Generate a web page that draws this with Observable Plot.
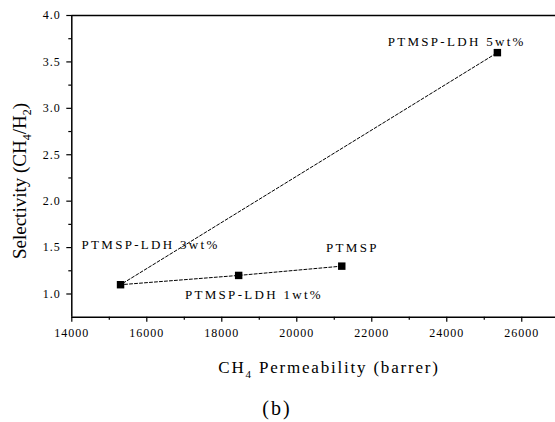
<!DOCTYPE html>
<html><head><meta charset="utf-8">
<script src="https://cdn.jsdelivr.net/npm/d3@7"></script>
<script src="https://cdn.jsdelivr.net/npm/@observablehq/plot@0.6"></script>
<style>body{margin:0;background:#fff;overflow:hidden} svg{display:block}</style>
</head><body><div id="chart"></div>
<script>
// Data
const samples = ["PTMSP", "PTMSP-LDH 1wt%", "PTMSP-LDH 3wt%", "PTMSP-LDH 5wt%"];
const permeability = [21200, 18450, 15300, 25350];
const selectivity = [1.3, 1.2, 1.1, 3.6];
// Tick values
const xMajor = [14000, 16000, 18000, 20000, 22000, 24000, 26000];
const xMinor = [15000, 17000, 19000, 21000, 23000, 25000];
const yMajor = [1.0, 1.5, 2.0, 2.5, 3.0, 3.5, 4.0];
const yMinor = [1.25, 1.75, 2.25, 2.75, 3.25, 3.75];

const data = samples.map((s, i) => ({sample: s, x: permeability[i], y: selectivity[i]}));

// label placement (pixel offsets from each point)
const labelOffsets = {
  "PTMSP": [-15.7, -18.5],
  "PTMSP-LDH 1wt%": [-53.7, 19.8],
  "PTMSP-LDH 3wt%": [-39, -39.9],
  "PTMSP-LDH 5wt%": [-109.7, -10.5]
};

const font = "'Liberation Serif','Times New Roman',serif";

const chart = Plot.plot({
  width: 555, height: 422,
  marginLeft: 71.3, marginRight: 0, marginTop: 15, marginBottom: 105.3,
  style: {fontFamily: font, background: "#fff", color: "#000", overflow: "visible"},
  x: {domain: [14000, 26900]},
  y: {domain: [0.75, 4.0]},
  marks: [
    Plot.axisX({ticks: xMajor, tickSize: 5, tickPadding: 6.5, tickFormat: d => String(d), fontSize: 12, label: null, strokeWidth: 1.2}),
    Plot.axisX({ticks: xMinor, tickSize: 3, tickFormat: () => "", label: null, strokeWidth: 1.2}),
    Plot.axisY({ticks: yMajor, tickSize: 5, tickPadding: 6, tickFormat: d => d.toFixed(1), fontSize: 12, label: null, strokeWidth: 1.2}),
    Plot.axisY({ticks: yMinor, tickSize: 3, tickFormat: () => "", label: null, strokeWidth: 1.2}),
    Plot.ruleX([14000], {stroke: "#000", strokeWidth: 1.5}),
    Plot.ruleY([0.75], {stroke: "#000", strokeWidth: 1.5}),
    Plot.ruleY([4.0], {stroke: "#000", strokeWidth: 1.3}),
    Plot.line(data, {x: "x", y: "y", stroke: "#000", strokeWidth: 1, strokeDasharray: "3,2"}),
    Plot.dot(data, {x: "x", y: "y", symbol: "square", r: 4.2, fill: "#000", stroke: "none"}),
    ...samples.map(s => Plot.text(data.filter(d => d.sample === s), {
      x: "x", y: "y", text: "sample", textAnchor: "start",
      dx: labelOffsets[s][0], dy: labelOffsets[s][1],
      fontSize: 13, fill: "#000", className: "pt-label"
    }))
  ]
});

document.getElementById("chart").appendChild(chart);
const svg = d3.select(chart);
svg.selectAll("g[aria-label='x-axis tick label'] text, g[aria-label='y-axis tick label'] text").attr("letter-spacing", "1px");
svg.selectAll(".pt-label text").attr("letter-spacing", "2.3px");

// X axis title
const xt = svg.append("text")
  .attr("x", 329).attr("y", 373.3)
  .attr("text-anchor", "middle")
  .attr("font-family", font).attr("font-size", 17)
  .attr("letter-spacing", "1.8px").attr("fill", "#000");
xt.append("tspan").text("CH");
xt.append("tspan").attr("font-size", 11).attr("dy", 5).text("4");
xt.append("tspan").attr("dy", -5).text(" Permeability (barrer)");

// Y axis title
const yt = svg.append("text")
  .attr("transform", "translate(26,181) rotate(-90)")
  .attr("text-anchor", "middle")
  .attr("font-family", font).attr("font-size", 19)
  .attr("fill", "#000");
yt.append("tspan").text("Selectivity (CH");
yt.append("tspan").attr("font-size", 12).attr("dy", 5).text("4");
yt.append("tspan").attr("dy", -5).text("/H");
yt.append("tspan").attr("font-size", 12).attr("dy", 5).text("2");
yt.append("tspan").attr("dy", -5).text(")");

// Caption (b)
svg.append("text")
  .attr("x", 277).attr("y", 415)
  .attr("text-anchor", "middle")
  .attr("font-family", font).attr("font-size", 20)
  .attr("letter-spacing", "2px").attr("fill", "#000")
  .text("(b)");
</script>
</body></html>
